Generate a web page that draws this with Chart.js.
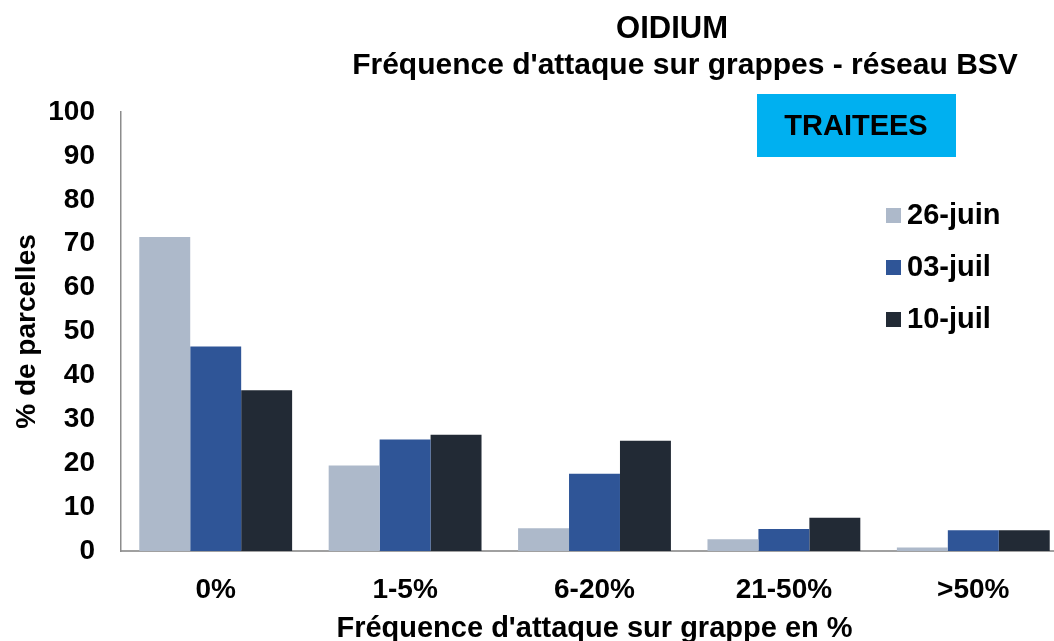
<!DOCTYPE html>
<html>
  <head>
    <meta charset="utf-8">
    <title>Oidium - fréquence d'attaque</title>
    <script src="https://cdn.jsdelivr.net/npm/chart.js@4.4.0/dist/chart.umd.min.js"></script>
    <style>
      html, body { margin: 0; padding: 0; background: #fff; overflow: hidden; }
      #wrap { width: 1072px; height: 641px; position: relative; }
    </style>
  </head>
  <body>
    <div id="wrap"><canvas id="myChart"></canvas></div>

    <script>
      // donnees
      const classes = ['0%', '1-5%', '6-20%', '21-50%', '>50%'];
      const dates = ['26-juin', '03-juil', '10-juil'];
      const juin26 = [71.5, 19.5, 5.2, 2.7, 0.8];
      const juil03 = [46.6, 25.4, 17.6, 5.0, 4.7];
      const juil10 = [36.6, 26.5, 25.1, 7.6, 4.7];
      const yTicks = [0, 10, 20, 30, 40, 50, 60, 70, 80, 90, 100];

      const couleurs = ['#adb9ca', '#2f5597', '#222a35'];
      const police = '"Liberation Sans", Arial, sans-serif';

      // titres, encadre TRAITEES et legende dessines a la main
      const decor = {
        id: 'decor',
        afterDraw(chart) {
          const ctx = chart.ctx;
          ctx.save();
          ctx.fillStyle = '#000';
          ctx.textAlign = 'center';
          ctx.textBaseline = 'middle';
          ctx.font = 'bold 31px ' + police;
          ctx.fillText('OIDIUM', 672, 29);
          ctx.font = 'bold 30px ' + police;
          ctx.fillText("Fréquence d'attaque sur grappes - réseau BSV", 685, 66);

          ctx.fillStyle = '#00b0f0';
          ctx.fillRect(757, 94, 199, 63);
          ctx.fillStyle = '#000';
          ctx.font = 'bold 29px ' + police;
          ctx.fillText('TRAITEES', 856, 127);

          ctx.textAlign = 'left';
          ctx.font = 'bold 29px ' + police;
          chart.data.datasets.forEach((ds, i) => {
            const y = 215 + i * 52;
            ctx.fillStyle = ds.backgroundColor;
            ctx.fillRect(886, y - 7, 15, 15);
            ctx.fillStyle = '#000';
            ctx.fillText(ds.label, 907, y + 1);
          });
          ctx.restore();
        }
      };

      const series = [juin26, juil03, juil10];
      var ctx = document.getElementById('myChart').getContext('2d');
      var myChart = new Chart(ctx, {
        type: 'bar',
        data: {
          labels: classes,
          datasets: dates.map((d, i) => ({
            label: d,
            data: series[i],
            backgroundColor: couleurs[i],
            categoryPercentage: 0.807,
            barPercentage: 1
          }))
        },
        options: {
          responsive: true,
          maintainAspectRatio: false,
          animation: false,
          layout: { padding: { top: 112, right: 4, left: 0, bottom: 0 } },
          plugins: {
            legend: { display: false },
            tooltip: { enabled: false }
          },
          scales: {
            x: {
              grid: { display: false, drawTicks: false },
              border: { color: '#a0a0a0', width: 2 },
              ticks: {
                color: '#000',
                padding: 22,
                font: { family: police, size: 28, weight: 'bold', lineHeight: 1.2 }
              },
              title: {
                display: true,
                text: "Fréquence d'attaque sur grappe en %",
                color: '#000',
                padding: { top: 0, bottom: 0 },
                font: { family: police, size: 29, weight: 'bold', lineHeight: 0.8 }
              },
              afterFit(scale) { scale.height = 90; }
            },
            y: {
              min: 0,
              max: 100,
              grid: { display: false, drawTicks: false },
              border: { color: '#8c8c8c', width: 1.5 },
              afterBuildTicks(scale) {
                scale.ticks = yTicks.map(v => ({ value: v }));
              },
              ticks: {
                color: '#000',
                padding: 26,
                font: { family: police, size: 28, weight: 'bold' }
              },
              title: {
                display: true,
                text: '% de parcelles',
                color: '#000',
                padding: { top: 13, bottom: 0 },
                font: { family: police, size: 28, weight: 'bold', lineHeight: 1 }
              },
              afterFit(scale) { scale.width = 121; }
            }
          }
        },
        plugins: [decor]
      });
    </script>
  </body>
</html>
